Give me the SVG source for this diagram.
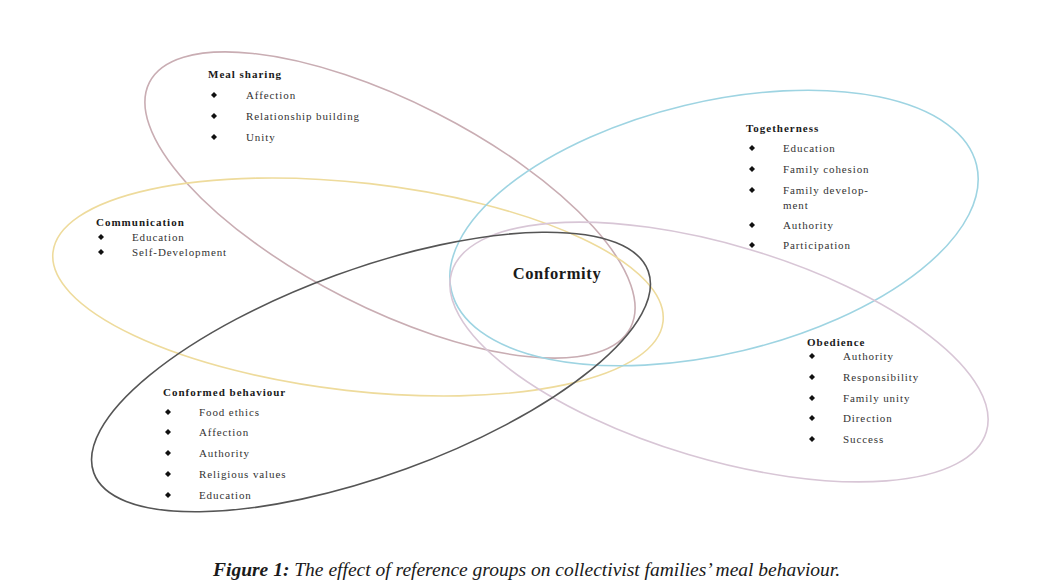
<svg xmlns="http://www.w3.org/2000/svg" xmlns:xlink="http://www.w3.org/1999/xlink" width="1039" height="584" viewBox="0 0 1039 584">
<style>
.ell{fill:none;stroke-width:1.6}
.t{font-family:"Liberation Serif","DejaVu Serif",serif;fill:#1a1a1a}
.h{font-size:11px;font-weight:bold;letter-spacing:1px}
.i{font-size:11px;letter-spacing:0.9px;fill:#333}
.c{font-size:16.5px;font-weight:bold;letter-spacing:0.6px}
.cap{font-size:19.5px;font-style:italic}
</style>
<defs>
<path id="b" d="M0,-3 L3,0 L0,3 L-3,0 Z" fill="#111"/>
</defs>
<rect width="1039" height="584" fill="#fff"/>
<g id="connectors">
<ellipse id="e-meal" class="ell" cx="390" cy="205" rx="270" ry="103" transform="rotate(27 390 205)" stroke="#c9adb3"/>
<ellipse id="e-comm" class="ell" cx="358" cy="287" rx="307" ry="104" transform="rotate(6.5 358 287)" stroke="#eedb9c"/>
<ellipse id="e-tog" class="ell" cx="714" cy="228" rx="270" ry="126" transform="rotate(-13.5 714 228)" stroke="#9ed4e2"/>
<ellipse id="e-obed" class="ell" cx="719" cy="352" rx="279" ry="107" transform="rotate(16.6 719 352)" stroke="#d8c6d6"/>
<ellipse id="e-conf" class="ell" cx="371" cy="372" rx="295" ry="103" transform="rotate(-20 371 372)" stroke="#555"/>
</g>
<g id="meal-sharing">
<text class="t h" x="208" y="78">Meal sharing</text>
<use xlink:href="#b" x="214" y="95"/><text class="t i" x="246" y="99">Affection</text>
<use xlink:href="#b" x="214" y="116"/><text class="t i" x="246" y="120">Relationship building</text>
<use xlink:href="#b" x="214" y="137"/><text class="t i" x="246" y="141">Unity</text>
</g>
<g id="togetherness">
<text class="t h" x="746" y="132">Togetherness</text>
<use xlink:href="#b" x="752" y="148"/><text class="t i" x="783" y="152">Education</text>
<use xlink:href="#b" x="752" y="169"/><text class="t i" x="783" y="173">Family cohesion</text>
<use xlink:href="#b" x="752" y="190"/><text class="t i" x="783" y="194">Family develop-</text>
<text class="t i" x="783" y="209">ment</text>
<use xlink:href="#b" x="752" y="225"/><text class="t i" x="783" y="229">Authority</text>
<use xlink:href="#b" x="752" y="245"/><text class="t i" x="783" y="249">Participation</text>
</g>
<g id="communication">
<text class="t h" x="96" y="226">Communication</text>
<use xlink:href="#b" x="101" y="237"/><text class="t i" x="132" y="241">Education</text>
<use xlink:href="#b" x="101" y="252"/><text class="t i" x="132" y="256">Self-Development</text>
</g>
<g id="conformity">
<text class="t c" x="557" y="279" text-anchor="middle">Conformity</text>
</g>
<g id="obedience">
<text class="t h" x="807" y="346">Obedience</text>
<use xlink:href="#b" x="812" y="356"/><text class="t i" x="843" y="360">Authority</text>
<use xlink:href="#b" x="812" y="377"/><text class="t i" x="843" y="381">Responsibility</text>
<use xlink:href="#b" x="812" y="398"/><text class="t i" x="843" y="402">Family unity</text>
<use xlink:href="#b" x="812" y="418"/><text class="t i" x="843" y="422">Direction</text>
<use xlink:href="#b" x="812" y="439"/><text class="t i" x="843" y="443">Success</text>
</g>
<g id="conformed-behaviour">
<text class="t h" x="163" y="396">Conformed behaviour</text>
<use xlink:href="#b" x="168" y="412"/><text class="t i" x="199" y="416">Food ethics</text>
<use xlink:href="#b" x="168" y="432"/><text class="t i" x="199" y="436">Affection</text>
<use xlink:href="#b" x="168" y="453"/><text class="t i" x="199" y="457">Authority</text>
<use xlink:href="#b" x="168" y="474"/><text class="t i" x="199" y="478">Religious values</text>
<use xlink:href="#b" x="168" y="495"/><text class="t i" x="199" y="499">Education</text>
</g>
<g id="caption">
<text class="t cap" x="213" y="576"><tspan font-weight="bold">Figure 1:</tspan> The effect of reference groups on collectivist families’ meal behaviour.</text>
</g>
</svg>
